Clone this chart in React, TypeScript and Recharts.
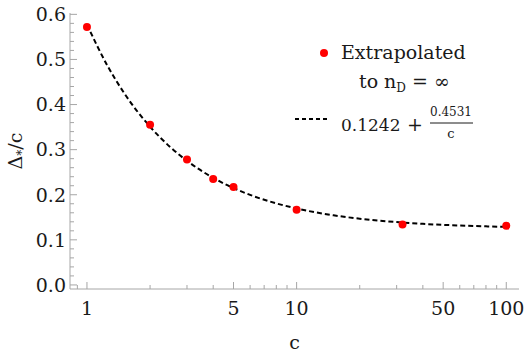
import { ComposedChart, Line, Scatter, XAxis, YAxis, Legend } from "recharts";

// extrapolated points (c, Δ*/c)
const cValues = [1, 2, 3, 4, 5, 10, 32, 100];
const deltaValues = [0.572, 0.355, 0.278, 0.235, 0.217, 0.167, 0.134, 0.131];

// fitted curve 0.1242 + 0.4531/c, sampled
const fitC = [1, 1.25, 1.5, 2, 2.5, 3, 4, 5, 6, 8, 10, 15, 20, 30, 40, 60, 80, 100];
const fitDelta = [
  0.5773, 0.4867, 0.4263, 0.3508, 0.3054, 0.2752, 0.2375, 0.2148, 0.1997, 0.1808,
  0.1695, 0.1544, 0.1469, 0.1393, 0.1355, 0.1318, 0.1299, 0.1287,
];

const xMajor = [1, 5, 10, 50, 100];
const xMinor = [0.9, 2, 3, 4, 6, 7, 8, 9, 20, 30, 40, 60, 70, 80, 90];
const yMajor = [0, 0.1, 0.2, 0.3, 0.4, 0.5, 0.6];
const yMinor = [
  0.02, 0.04, 0.06, 0.08, 0.12, 0.14, 0.16, 0.18, 0.22, 0.24, 0.26, 0.28, 0.32, 0.34,
  0.36, 0.38, 0.42, 0.44, 0.46, 0.48, 0.52, 0.54, 0.56, 0.58,
];

const points = cValues.map((c, i) => ({ c, d: deltaValues[i] }));
const fit = fitC.map((c, i) => ({ c, d: fitDelta[i] }));

const FONT = "DejaVu Serif, serif";
const FS = 19;
const FS_SMALL = 12;
const FRAME = "#a6a6a6";
const INK = "#1a1a1a";
const xTicks = [...xMinor, ...xMajor].sort((a, b) => a - b);
const yTicks = [...yMinor, ...yMajor].sort((a, b) => a - b);

const isMajor = (list: number[], v: number) => list.some((m) => Math.abs(m - v) < 1e-9);

const txt = { fontFamily: FONT };

const makeXTick = (side: "bottom" | "top") => (props: any) => {
  const { x, y, payload } = props;
  const major = isMajor(xMajor, payload.value);
  const len = major ? 7 : 4;
  const y2 = side === "bottom" ? y - len : y + len;
  return (
    <g>
      <line x1={x} y1={y} x2={x} y2={y2} stroke={FRAME} strokeWidth={1} />
      {side === "bottom" && major && (
        <text x={x} y={y + 26} textAnchor="middle" style={txt} fontSize={FS} fill={INK}>
          {payload.value}
        </text>
      )}
    </g>
  );
};

const makeYTick = (side: "left" | "right") => (props: any) => {
  const { x, y, payload } = props;
  const major = isMajor(yMajor, payload.value);
  const len = major ? 7 : 4;
  const x2 = side === "left" ? x + len : x - len;
  return (
    <g>
      <line x1={x} y1={y} x2={x2} y2={y} stroke={FRAME} strokeWidth={1} />
      {side === "left" && major && (
        <text x={x - 4} y={y} dy="0.36em" textAnchor="end" style={txt} fontSize={FS} fill={INK}>
          {payload.value.toFixed(1)}
        </text>
      )}
    </g>
  );
};

const renderLegend = () => (
  <svg width={240} height={115}>
    <circle cx={39} cy={23} r={4} fill="#ff0000" />
    <text x={56} y={29} style={txt} fontSize={FS} fill={INK}>
      Extrapolated
    </text>
    <text x={74} y={58} style={txt} fontSize={FS} fill={INK}>
      to n<tspan fontSize={FS_SMALL} dy={4}>D</tspan>
      <tspan dy={-4}> = ∞</tspan>
    </text>
    <line x1={10} y1={89} x2={44} y2={89} stroke="#000" strokeWidth={1.8} strokeDasharray="4 3" />
    <text x={56} y={101} style={txt} fontSize={17} fill={INK}>
      0.1242
    </text>
    <text x={130} y={101} textAnchor="middle" style={txt} fontSize={FS} fill={INK}>
      +
    </text>
    <text x={166} y={86} textAnchor="middle" style={txt} fontSize={FS_SMALL} fill={INK}>
      0.4531
    </text>
    <line x1={145} y1={93} x2={188} y2={93} stroke={INK} strokeWidth={1} />
    <text x={166} y={108} textAnchor="middle" style={txt} fontSize={FS_SMALL + 1} fill={INK}>
      c
    </text>
  </svg>
);

const YTitle = (props: any) => {
  const { viewBox } = props;
  const cy = viewBox.y + viewBox.height / 2;
  return (
    <text
      x={15}
      y={cy}
      transform={`rotate(-90, 15, ${cy})`}
      textAnchor="middle"
      dy="0.36em"
      style={txt}
      fontSize={FS}
      fill={INK}
    >
      Δ<tspan fontSize={FS_SMALL} dy={4}>*</tspan>
      <tspan dy={-4}>/c</tspan>
    </text>
  );
};

const XTitle = (props: any) => {
  const { viewBox } = props;
  return (
    <text x={294.5} y={viewBox.y + 60} textAnchor="middle" style={txt} fontSize={FS} fill={INK}>
      c
    </text>
  );
};

const App = () => {
  return (
    <div style={{ position: "absolute", left: 0, top: 0, width: 530, height: 356, background: "#fff" }}>
      <ComposedChart width={530} height={356} margin={{ top: 13, right: 11, left: 0, bottom: 0 }}>
        <XAxis
          dataKey="c"
          type="number"
          scale="log"
          domain={[0.83, 115]}
          allowDataOverflow
          ticks={xTicks}
          interval={0}
          height={67}
          tickSize={0}
          tickMargin={0}
          tickLine={false}
          axisLine={{ stroke: FRAME }}
          tick={makeXTick("bottom")}
          label={<XTitle />}
        />
        <XAxis
          xAxisId="top"
          orientation="top"
          dataKey="c"
          type="number"
          scale="log"
          domain={[0.83, 115]}
          allowDataOverflow
          ticks={xTicks}
          interval={0}
          height={0}
          tickSize={0}
          tickMargin={0}
          tickLine={false}
          axisLine={{ stroke: FRAME }}
          tick={makeXTick("top")}
        />
        <YAxis
          type="number"
          domain={[-0.009, 0.603]}
          allowDataOverflow
          ticks={yTicks}
          interval={0}
          width={70}
          tickSize={0}
          tickMargin={0}
          tickLine={false}
          axisLine={{ stroke: FRAME }}
          tick={makeYTick("left")}
          label={<YTitle />}
        />
        <YAxis
          yAxisId="right"
          orientation="right"
          type="number"
          domain={[-0.009, 0.603]}
          allowDataOverflow
          ticks={yTicks}
          interval={0}
          width={0}
          tickSize={0}
          tickMargin={0}
          tickLine={false}
          axisLine={{ stroke: FRAME }}
          tick={makeYTick("right")}
        />
        <Line
          data={fit}
          dataKey="d"
          type="monotone"
          stroke="#000"
          strokeWidth={2}
          strokeDasharray="5 3"
          dot={false}
          activeDot={false}
          isAnimationActive={false}
        />
        <Scatter
          data={points}
          dataKey="d"
          fill="#ff0000"
          shape={(p: any) => <circle cx={p.cx} cy={p.cy} r={4} fill="#ff0000" />}
          isAnimationActive={false}
        />
        <Legend
          layout="vertical"
          align="center"
          verticalAlign="middle"
          content={renderLegend}
          wrapperStyle={{ position: "absolute", left: 285, top: 30, width: 240, height: 115 }}
        />
      </ComposedChart>
    </div>
  );
};

export default App;
